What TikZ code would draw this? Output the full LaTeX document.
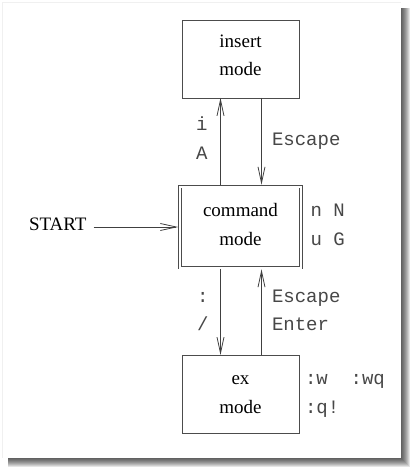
\documentclass[tikz,border=0pt]{standalone}
\usepackage{fontspec}
\setmainfont{Liberation Serif}
\setmonofont{Liberation Mono}
\usetikzlibrary{arrows.meta}
\begin{document}
\begin{tikzpicture}[x=1pt,y=-1pt,
  every node/.style={inner sep=0pt,outer sep=0pt},
  box/.style={draw=black!70,line width=0.8pt,minimum width=117pt,minimum height=78pt},
  dbox/.style={draw=black!70,line width=0.8pt,double,double distance=2pt,minimum width=121pt,minimum height=81pt,outer sep=1.8pt},
  arr/.style={draw=black!75,line width=0.8pt,-{Straight Barb[length=16pt,width=7pt,line width=0.8pt]}},
  rm/.style={font=\fontsize{19}{28}\selectfont,anchor=base},
  tt/.style={font=\fontsize{19}{28}\selectfont\ttfamily,anchor=base west,text=black!72}]
\useasboundingbox (0,0) rectangle (411,468);
% page shadow
\foreach \k in {0,...,8} \fill[black,opacity=0.1] (8,8) rectangle (402+\k,459+\k);
\fill[black!6] (2,2) rectangle (401,458);
\fill[white] (3.2,3.2) rectangle (401,458);
% boxes
\node[box] (ins) at (240.5,59) {};
\node[dbox] (cmd) at (240.5,227) {};
\node[box] (ex) at (240.5,394) {};
\node[rm] (ins1) at (240.5,48) {insert};
\node[rm] (ins2) at (240.5,76) {mode};
\node[rm] (cmd1) at (240.5,216) {command};
\node[rm] (cmd2) at (240.5,245) {mode};
\node[rm] (ex1) at (240.5,384) {ex};
\node[rm] (ex2) at (240.5,413) {mode};
\node[rm,anchor=base west,inner xsep=0pt] (start) at (29,230) {START};
% connectors
\draw[arr] ([xshift=-20pt]cmd.north) -- ([xshift=-20pt]ins.south);
\draw[arr] ([xshift=21pt]ins.south) -- ([xshift=21pt]cmd.north);
\draw[arr] ([xshift=-20pt]cmd.south) -- ([xshift=-20pt]ex.north);
\draw[arr] ([xshift=21pt]ex.north) -- ([xshift=21pt]cmd.south);
\draw[arr] ([xshift=7pt]start.east |- cmd.west) -- (cmd.west);
% labels
\node[tt] (li) at (196,130) {i};
\node[tt] (lA) at (196,159) {A};
\node[tt] (lesc1) at (272,145) {Escape};
\node[tt] (lnN) at (310.5,216) {n~N};
\node[tt] (luG) at (310.5,245) {u~G};
\node[tt] (lcol) at (197,302) {:};
\node[tt] (lsl) at (197,330) {/};
\node[tt] (lesc2) at (272,302) {Escape};
\node[tt] (lent) at (272,330) {Enter};
\node[tt] (lw) at (305,384) {:w~~:wq};
\node[tt] (lq) at (305,413) {:q!};
\end{tikzpicture}
\end{document}
